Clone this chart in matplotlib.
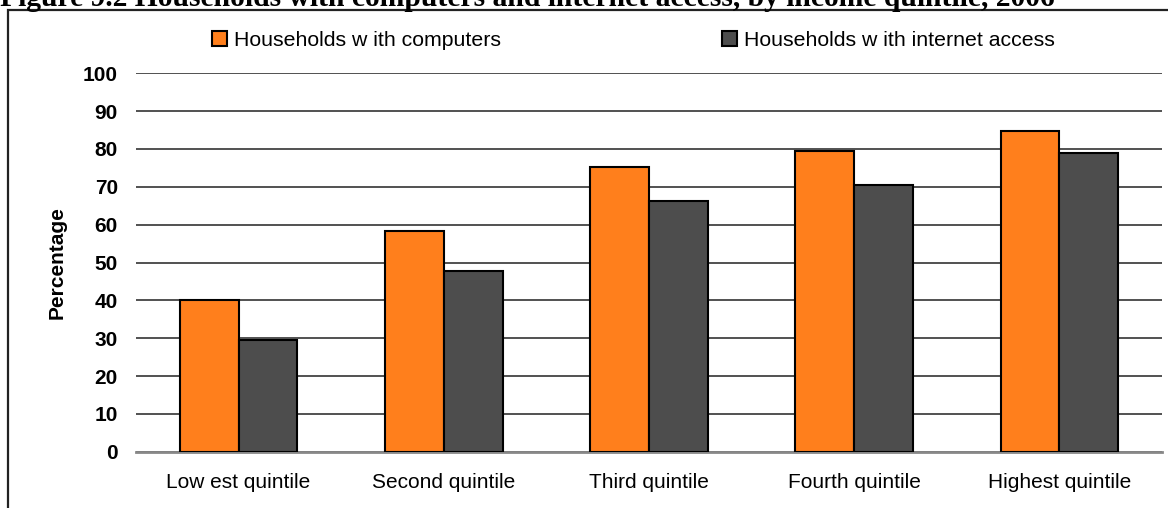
import numpy as np
import matplotlib.pyplot as plt
from matplotlib.patches import Rectangle

# data
quintiles = ['Low est quintile', 'Second quintile', 'Third quintile',
             'Fourth quintile', 'Highest quintile']
computers = [40.0, 58.3, 75.3, 79.5, 84.8]
internet = [29.5, 47.8, 66.3, 70.5, 79.0]
yticks = [0, 10, 20, 30, 40, 50, 60, 70, 80, 90, 100]

orange = '#FF7F1C'
dark = '#4D4D4D'

plt.rcParams['font.family'] = ['Liberation Sans', 'DejaVu Sans']

fig = plt.figure(figsize=(11.68, 5.08), dpi=100)
ax = fig.add_axes([136 / 1168, 1 - 451.7 / 508, (1162 - 136) / 1168, (451.7 - 73.3) / 508])

x = np.arange(len(quintiles))
w = 0.287
ax.bar(x - w / 2, computers, w, color=orange, edgecolor='black', linewidth=1.5,
       label='Households w ith computers', zorder=3)
ax.bar(x + w / 2, internet, w, color=dark, edgecolor='black', linewidth=1.5,
       label='Households w ith internet access', zorder=3)

ax.set_xlim(-0.5, 4.5)
ax.set_ylim(0, 100)
ax.set_yticks(yticks)
ax.set_yticklabels([str(t) for t in yticks], fontsize=15, fontweight='bold')
ax.set_xticks(x)
ax.set_xticklabels(quintiles, fontsize=15)
ax.tick_params(length=0, axis='y', pad=13)
ax.tick_params(length=0, axis='x', pad=15)
ax.grid(axis='y', color='#333333', linewidth=1.2, zorder=0)
for s in ['left', 'right', 'top']:
    ax.spines[s].set_visible(False)
ax.spines['bottom'].set_color('#888888')
ax.spines['bottom'].set_linewidth(2)
ax.set_ylabel('Percentage', fontsize=15, fontweight='bold', labelpad=12)

fig.legend(loc='center left', bbox_to_anchor=(212 / 1168, 1 - 40 / 508), ncol=2,
           frameon=False, fontsize=15.3, handlelength=0.7, handleheight=0.7,
           handletextpad=0.33, columnspacing=10.4, borderpad=0, borderaxespad=0)

# outer frame, cut off at bottom and right
top = 1 - 10 / 508
fig.add_artist(Rectangle((8 / 1168, -0.2), 1.2, top + 0.2, transform=fig.transFigure,
                         fill=False, edgecolor='#222222', linewidth=1.6))

fig.text(0.0, 1 - 6 / 508, 'Figure 9.2 Households with computers and internet access, by income quintile, 2006',
         family='Liberation Serif', fontweight='bold', fontsize=21.3, ha='left', va='baseline')

fig.savefig('out.png', dpi=100)
